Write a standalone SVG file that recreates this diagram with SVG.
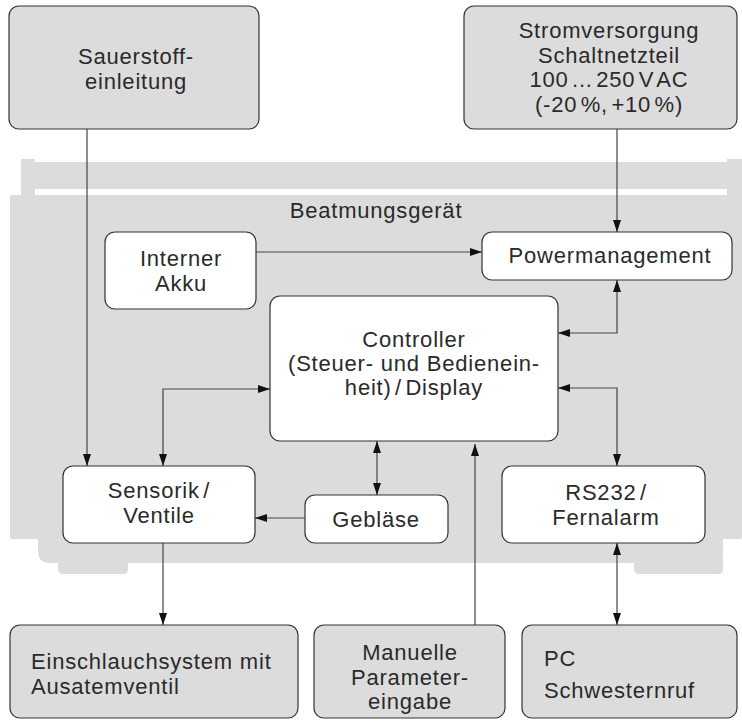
<svg xmlns="http://www.w3.org/2000/svg" width="742" height="722" viewBox="0 0 742 722">
<style>
text{font-family:"Liberation Sans",Arial,sans-serif;font-size:22px;fill:#2a2a2a;letter-spacing:0.8px}
.c{text-anchor:middle}
.ns{word-spacing:-3.5px}
.ext{fill:#dcdcdc;stroke:#333;stroke-width:1.2}
.int{fill:#fff;stroke:#333;stroke-width:1.2}
.bg{fill:#dcdcdc}
.con path{fill:none;stroke:#444;stroke-width:1.2}
</style>
<defs>
<marker id="ah" viewBox="0 0 12 8" refX="12" refY="4" markerWidth="12" markerHeight="8" markerUnits="userSpaceOnUse" orient="auto-start-reverse">
<path d="M0,0 L12,4 L0,8 z" fill="#111"/>
</marker>
</defs>
<rect width="742" height="722" fill="#fff"/>
<g id="device-bg">
<rect class="bg" x="21" y="159" width="14" height="40"/>
<rect class="bg" x="35" y="162" width="692" height="27"/>
<rect class="bg" x="727" y="159" width="15" height="40"/>
<rect class="bg" x="10" y="195" width="732" height="344" rx="2"/>
<path class="bg" d="M38,525 H723 V551 Q723,563 711,563 H50 Q38,563 38,551 Z"/>
<path class="bg" d="M58,555 H128 V569 Q128,574 123,574 H63 Q58,574 58,569 Z"/>
<path class="bg" d="M634,555 H723 V569 Q723,574 718,574 H639 Q634,574 634,569 Z"/>
<text class="c" x="376" y="218">Beatmungsgerät</text>
</g>
<g id="sauerstoff"><rect class="ext" x="9" y="6" width="250" height="123" rx="10"/>
<text class="c" x="136" y="64">Sauerstoff-</text><text class="c" x="136" y="89">einleitung</text></g>
<g id="strom"><rect class="ext" x="464" y="6" width="273" height="123" rx="10"/>
<text class="c" x="609" y="38">Stromversorgung</text><text class="c" x="609" y="62.5">Schaltnetzteil</text><text class="c ns" x="609" y="87">100 ... 250 V AC</text><text class="c ns" x="609" y="111.5">(-20 %, +10 %)</text></g>
<g id="akku"><rect class="int" x="105" y="232" width="151" height="77" rx="10"/>
<text class="c" x="181" y="266">Interner</text><text class="c" x="181" y="291">Akku</text></g>
<g id="power"><rect class="int" x="482" y="232" width="250" height="48" rx="10"/>
<text class="c" x="610" y="263">Powermanagement</text></g>
<g id="controller"><rect class="int" x="270" y="296" width="288" height="145" rx="10"/>
<text class="c" x="414" y="347">Controller</text><text class="c" x="414" y="371">(Steuer- und Bedienein-</text><text class="c ns" x="414" y="395">heit) / Display</text></g>
<g id="sensorik"><rect class="int" x="63" y="466" width="192" height="77" rx="10"/>
<text class="c ns" x="159" y="498">Sensorik /</text><text class="c" x="159" y="523">Ventile</text></g>
<g id="geblaese"><rect class="int" x="305" y="495" width="143" height="48" rx="10"/>
<text class="c" x="376" y="527">Gebläse</text></g>
<g id="rs232"><rect class="int" x="502" y="466" width="203" height="77" rx="10"/>
<text class="c ns" x="606" y="500">RS232 /</text><text class="c" x="606" y="525">Fernalarm</text></g>
<g id="einschlauch"><rect class="ext" x="10" y="625" width="288" height="93" rx="10"/>
<text x="31" y="669">Einschlauchsystem mit</text><text x="31" y="694">Ausatemventil</text></g>
<g id="manuelle"><rect class="ext" x="314" y="625" width="191" height="93" rx="10"/>
<text class="c" x="410" y="660">Manuelle</text><text class="c" x="410" y="685">Parameter-</text><text class="c" x="410" y="709">eingabe</text></g>
<g id="pc"><rect class="ext" x="522" y="625" width="215" height="93" rx="10"/>
<text x="544" y="666">PC</text><text x="544" y="698">Schwesternruf</text></g>
<g class="con" id="connectors">
<path d="M87,129 V466" marker-end="url(#ah)"/>
<path d="M617,129 V232" marker-end="url(#ah)"/>
<path d="M256,252 H482" marker-end="url(#ah)"/>
<path d="M617,280 V333 H558" marker-start="url(#ah)" marker-end="url(#ah)"/>
<path d="M270,389 H163 V466" marker-start="url(#ah)" marker-end="url(#ah)"/>
<path d="M377,441 V495" marker-start="url(#ah)" marker-end="url(#ah)"/>
<path d="M305,518 H255" marker-end="url(#ah)"/>
<path d="M558,388 H617 V466" marker-start="url(#ah)" marker-end="url(#ah)"/>
<path d="M163,543 V625" marker-end="url(#ah)"/>
<path d="M475,625 V444" marker-end="url(#ah)"/>
<path d="M617,543 V625" marker-start="url(#ah)" marker-end="url(#ah)"/>
</g>
</svg>
